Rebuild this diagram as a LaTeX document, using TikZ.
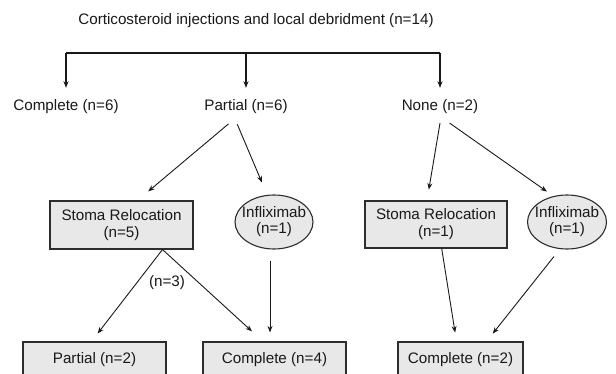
\documentclass[tikz,border=0pt]{standalone}
\usepackage{fontspec}
\setmainfont{Liberation Sans}
\usetikzlibrary{arrows.meta,shapes.geometric}
\definecolor{boxgray}{RGB}{232,232,232}
\definecolor{edgegray}{RGB}{45,45,45}
\definecolor{inkgray}{RGB}{25,25,25}
\tikzset{
  outtext/.style={font=\fontsize{15.2}{17}\selectfont,inner sep=0pt,text height=11pt,text depth=3pt,text=inkgray},
  trtbox/.style={draw=edgegray,fill=boxgray,line width=1.1pt,rectangle,minimum width=143pt,minimum height=48pt,
    align=center,inner sep=0pt,font=\fontsize{15.2}{17}\selectfont,text=inkgray},
  trtoval/.style={draw=edgegray,fill=boxgray,line width=1.1pt,ellipse,minimum width=78pt,minimum height=54pt,inner sep=0pt},
  ovaltext/.style={align=center,font=\fontsize{15.2}{16}\selectfont,text=inkgray,inner sep=0pt},
  flow/.style={-{Stealth[length=6.5pt,width=5pt]},line width=0.9pt,draw=inkgray},
  bar/.style={line width=1.3pt,draw=inkgray}
}
\begin{document}
\begin{tikzpicture}[x=1pt,y=-1pt]
  \useasboundingbox[fill=white] (0,0) rectangle (616,374);
  \node[outtext] (title) at (256,21) {Corticosteroid injections and local debridment (n=14)};
  \coordinate (j1) at (66,53);
  \coordinate (j2) at (246,53);
  \coordinate (j3) at (440,53);
  \node[outtext] (comp) at (66,107) {Complete (n=6)};
  \node[outtext] (part) at (246,107) {Partial (n=6)};
  \node[outtext] (none) at (440,107) {None (n=2)};

  \node[trtbox] (st1) at (121.5,225) {Stoma Relocation\\(n=5)};
  \node[trtoval,label={[ovaltext]center:{Infliximab\\(n=1)}}] (inf1) at (274,222) {};
  \node[trtbox,minimum width=142pt,minimum height=47pt] (st2) at (436,224.5) {Stoma Relocation\\(n=1)};
  \node[trtoval,minimum width=79pt,label={[ovaltext]center:{Infliximab\\(n=1)}}] (inf2) at (567,222) {};

  \node[outtext] (n3) at (167,283) {(n=3)};
  \node[trtbox,minimum height=36pt] (p2) at (94.5,360) {Partial (n=2)};
  \node[trtbox,minimum height=36pt] (c4) at (274.5,360) {Complete (n=4)};
  \node[trtbox,minimum width=125pt,minimum height=36pt] (c2) at (460.5,360) {Complete (n=2)};

  \draw[bar] (j1) -- (j3);
  \draw[flow,line width=1.1pt,shorten >=12pt] (j1) -- (comp);
  \draw[flow,line width=1.1pt,shorten >=12pt] (j2) -- (part);
  \draw[flow,line width=1.1pt,shorten >=12pt] (j3) -- (none);

  \draw[flow,shorten <=15pt,shorten >=14pt] ([xshift=-6pt]part.south) -- ([xshift=16pt]st1.north);
  \draw[flow,shorten <=11pt,shorten >=13pt] ([xshift=-13pt]part.south) -- ([xshift=-7pt]inf1.north);
  \draw[flow,shorten <=9pt,shorten >=11pt] ([xshift=1.5pt]none.south) -- ([xshift=-9pt]st2.north);
  \draw[flow,shorten <=15.5pt,shorten >=5pt] ([xshift=-3pt]none.south) -- ([xshift=-16pt]inf2.north);

  \draw[flow,shorten >=10pt] ([xshift=41pt]st1.south) -- ([xshift=-3pt]p2.north);
  \draw[flow,shorten >=15pt] ([xshift=41pt]st1.south) -- ([xshift=-11.5pt]c4.north);
  \draw[flow,shorten <=11pt,shorten >=9pt] ([xshift=-4pt]inf1.south) -- ([xshift=-4.5pt]c4.north);
  \draw[flow,shorten >=9pt] ([xshift=5.7pt]st2.south) -- ([xshift=-4pt]c2.north);
  \draw[flow,shorten <=9pt,shorten >=10pt] ([xshift=-7.5pt]inf2.south) -- ([xshift=26pt]c2.north);
\end{tikzpicture}
\end{document}
